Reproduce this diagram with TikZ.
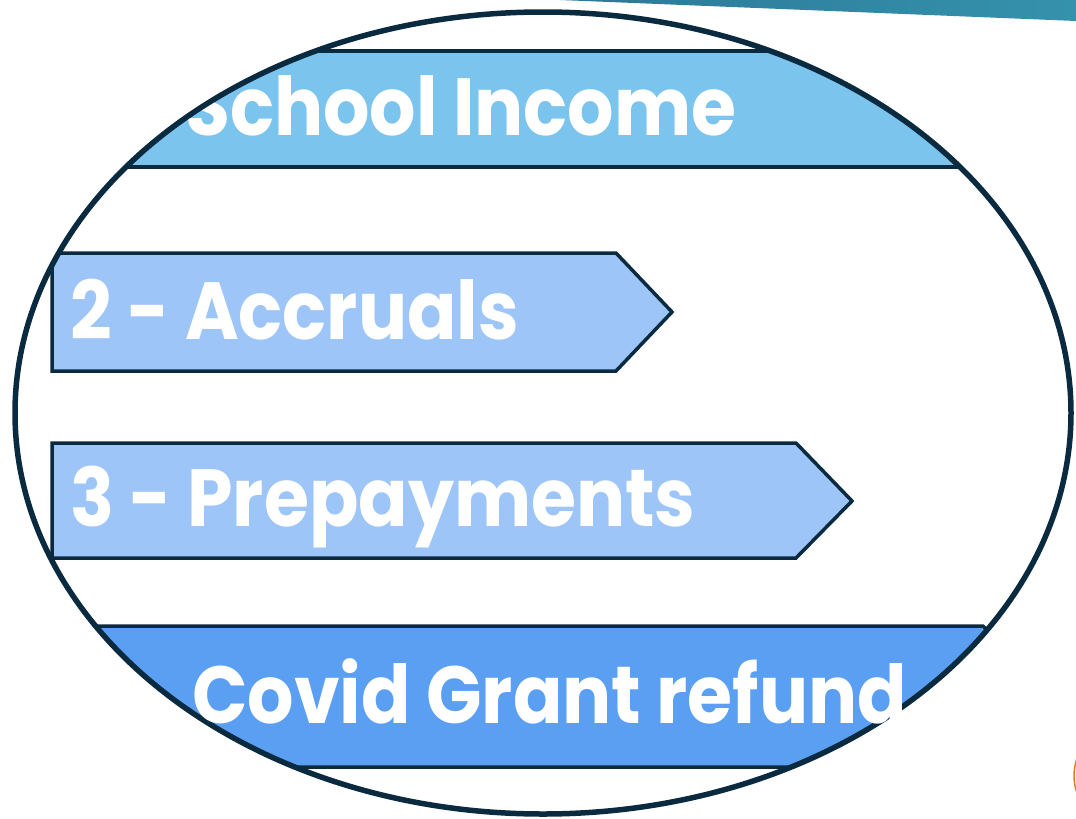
\documentclass[tikz,border=0pt]{standalone}
\usepackage{fontspec}
\setmainfont{Poppins}
\newfontfamily\barfont{Poppins}[FakeStretch=0.9]
\usetikzlibrary{positioning}

\definecolor{navy}{HTML}{0A2A40}
\definecolor{incomeblue}{HTML}{7BC4EE}
\definecolor{stepblue}{HTML}{9DC5F8}
\definecolor{covidblue}{HTML}{5B9FF2}
\definecolor{tealdark}{HTML}{2B7898}
\definecolor{teallight}{HTML}{3592AC}
\definecolor{edgeorange}{HTML}{E07B2E}

\begin{document}
\begin{tikzpicture}[
    x=1pt, y=-1pt,
    bar/.style={draw=navy, line width=3.5pt},
    oval/.style={draw=navy, line width=5.5pt},
    barlabel/.style={anchor=base west, inner sep=0pt, text=white, font=\barfont\bfseries\fontsize{81}{81}\selectfont}
]
\useasboundingbox (0,0) rectangle (1076,819);

% band at the top right
\shade[left color=tealdark, right color=teallight] (560,0) -- (1076,0) -- (1076,21) -- cycle;

% bars, cut by the oval
\begin{scope}
\clip (543,413) ellipse [x radius=528pt, y radius=401pt];
\path[bar, fill=incomeblue] (-10,51) rectangle (1090,167);
\path[bar, fill=stepblue] (52,253) -- (616,253) -- (672,312) -- (616,371) -- (52,371) -- cycle;
\path[bar, fill=stepblue] (52,443) -- (796,443) -- (852,501) -- (796,558) -- (52,558) -- cycle;
\path[bar, fill=covidblue] (-10,626) -- (983,626) -- (1053,697) -- (983,767) -- (-10,767) -- cycle;
\end{scope}

\node[barlabel] (income) at (185,135) {School Income};

% the oval
\draw[oval] (543,413) ellipse [x radius=528pt, y radius=401pt];

\node[barlabel] (accruals) at (70,339) {2 - Accruals};
\node[barlabel] (prepay) at (70,526) {3 - Prepayments};
\node[barlabel] (covid) at (192,723) {Covid Grant refund};

% sliver at the bottom right
\draw[edgeorange, line width=1.5pt] (1077,758) .. controls (1073,770) and (1073,782) .. (1077,793);
\end{tikzpicture}
\end{document}
